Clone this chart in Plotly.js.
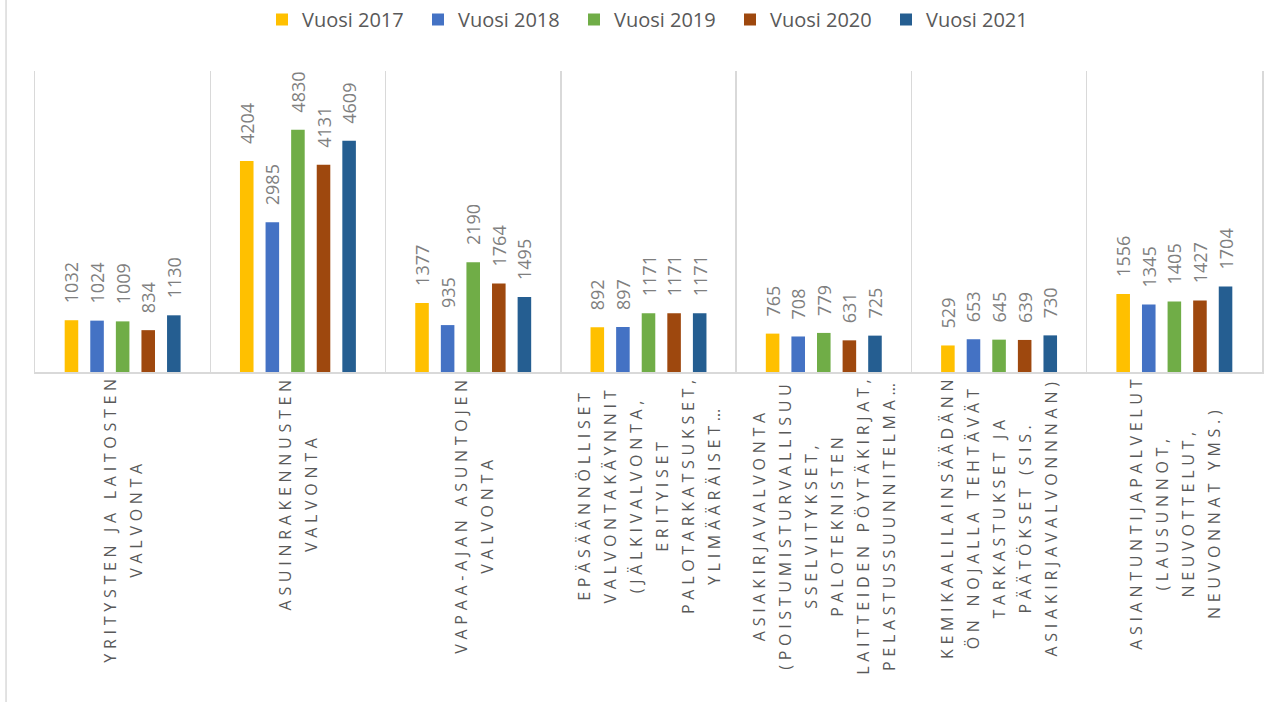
<!DOCTYPE html>
<html>
<head>
<meta charset="utf-8">
<script src="https://cdn.plot.ly/plotly-3.0.1.min.js"></script>
<style>
  html, body { margin: 0; padding: 0; background: #ffffff; }
  #chart { width: 1282px; height: 702px; }
</style>
</head>
<body>
<div id="chart"></div>
<script>
// ---- data ----
const categoryLines = [
  ["YRITYSTEN JA LAITOSTEN", "VALVONTA"],
  ["ASUINRAKENNUSTEN", "VALVONTA"],
  ["VAPAA-AJAN ASUNTOJEN", "VALVONTA"],
  ["EPÄSÄÄNNÖLLISET", "VALVONTAKÄYNNIT", "(JÄLKIVALVONTA,", "ERITYISET", "PALOTARKATSUKSET,", "YLIMÄÄRÄISET…"],
  ["ASIAKIRJAVALVONTA", "(POISTUMISTURVALLISUU", "SSELVITYKSET,", "PALOTEKNISTEN", "LAITTEIDEN PÖYTÄKIRJAT,", "PELASTUSSUUNNITELMA…"],
  ["KEMIKAALILAINSÄÄDÄNN", "ÖN NOJALLA TEHTÄVÄT", "TARKASTUKSET JA", "PÄÄTÖKSET (SIS.", "ASIAKIRJAVALVONNNAN)"],
  ["ASIANTUNTIJAPALVELUT", "(LAUSUNNOT,", "NEUVOTTELUT,", "NEUVONNAT YMS.)"]
];
const categories = categoryLines.map(l => l.join(" "));

const seriesNames = ["Vuosi 2017", "Vuosi 2018", "Vuosi 2019", "Vuosi 2020", "Vuosi 2021"];
const v2017 = [1032, 4204, 1377, 892, 765, 529, 1556];
const v2018 = [1024, 2985, 935, 897, 708, 653, 1345];
const v2019 = [1009, 4830, 2190, 1171, 779, 645, 1405];
const v2020 = [834, 4131, 1764, 1171, 631, 639, 1427];
const v2021 = [1130, 4609, 1495, 1171, 725, 730, 1704];
const seriesValues = [v2017, v2018, v2019, v2020, v2021];
const seriesColors = ["#FFC000", "#4472C4", "#70AD47", "#9E480E", "#255E91"];

// ---- traces ----
const FONT = "Open Sans, Liberation Sans, sans-serif";
const traces = seriesValues.map((vals, i) => ({
  type: "bar",
  name: seriesNames[i],
  x: categories,
  y: vals,
  marker: { color: seriesColors[i] },
  texttemplate: "\u00a0\u00a0\u00a0%{y}",
  textposition: "outside",
  textangle: -90,
  constraintext: "none",
  cliponaxis: false,
  outsidetextfont: { family: FONT, size: 18, color: "#7f7f7f" },
  textfont: { family: FONT, size: 18, color: "#7f7f7f" },
  hoverinfo: "skip"
}));

// ---- category labels (centered multi-line, rotated) ----
const annotations = categoryLines.map((lines, i) => ({
  x: categories[i],
  xref: "x",
  y: 0,
  yref: "paper",
  yanchor: "top",
  xanchor: "center",
  yshift: -1,
  showarrow: false,
  textangle: -90,
  align: "center",
  font: { family: FONT, size: 20, color: "#595959" },
  text: lines.map(t => '<span style="font-size:16px;letter-spacing:4.7px">' + t + '</span>').join("<br>")
}));

const layout = {
  width: 1282,
  height: 702,
  margin: { l: 35, r: 20, t: 71, b: 330 },
  paper_bgcolor: "#ffffff",
  plot_bgcolor: "#ffffff",
  font: { family: FONT, color: "#595959" },
  barmode: "group",
  bargap: 0.27,
  bargroupgap: 0.47,
  showlegend: true,
  legend: {
    orientation: "h",
    x: 0.185,
    xanchor: "left",
    y: 1,
    yref: "container",
    yanchor: "top",
    entrywidth: 111,
    entrywidthmode: "pixels",
    font: { family: FONT, size: 20, color: "#595959" },
    bgcolor: "rgba(0,0,0,0)",
    traceorder: "normal"
  },
  xaxis: {
    type: "category",
    tickson: "boundaries",
    showgrid: true,
    gridcolor: "#d9d9d9",
    gridwidth: 1.5,
    showticklabels: false,
    ticks: "",
    showline: true,
    linecolor: "#d9d9d9",
    linewidth: 2,
    zeroline: false,
    fixedrange: true
  },
  yaxis: {
    range: [0, 6000],
    showgrid: false,
    showticklabels: false,
    ticks: "",
    zeroline: false,
    showline: true,
    mirror: true,
    linecolor: "#d9d9d9",
    linewidth: 1.5,
    fixedrange: true
  },
  annotations: annotations,
  shapes: [{
    type: "line",
    xref: "paper", yref: "paper",
    x0: -0.0236, x1: -0.0236,
    y0: -1.1, y1: 1.24,
    line: { color: "#d9d9d9", width: 1.5 }
  }]
};

Plotly.newPlot("chart", traces, layout, { displayModeBar: false, staticPlot: true });
</script>
</body>
</html>
